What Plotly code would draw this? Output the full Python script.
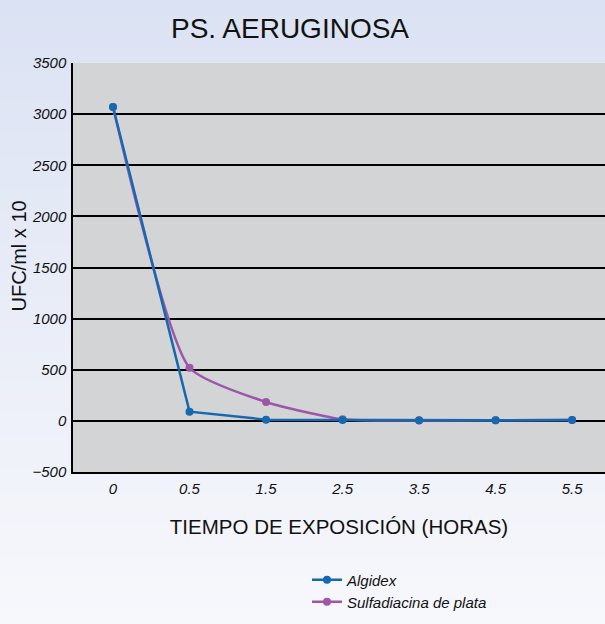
import plotly.graph_objects as go

categories = ["0", "0.5", "1.5", "2.5", "3.5", "4.5", "5.5"]
algidex = [3070, 90, 12, 8, 5, 6, 8]
sulfadiacina = [3070, 520, 185, 15, 3, 6, 8]
y_ticks = [-500, 0, 500, 1000, 1500, 2000, 2500, 3000, 3500]

xi = list(range(len(categories)))

W, H = 605, 624
L, R, T, B = 73, 0, 63, 152
PW, PH = W - L - R, H - T - B


def px_to_paper_x(px):
    return (px - L) / PW


def py_to_paper_y(py):
    return (H - B - py) / PH


fig = go.Figure()

# gradient paper background
n = 80
top = (219, 226, 243)
bot = (247, 248, 252)
for i in range(n):
    t = i / (n - 1)
    c = tuple(int(round(top[k] + (bot[k] - top[k]) * t)) for k in range(3))
    py0 = H * i / n
    py1 = H * (i + 1) / n + 1
    fig.add_shape(type="rect", xref="paper", yref="paper",
                  x0=px_to_paper_x(-5), x1=px_to_paper_x(W + 5),
                  y0=py_to_paper_y(py1), y1=py_to_paper_y(py0),
                  fillcolor="rgb(%d,%d,%d)" % c, line_width=0, layer="below")
# plot area background
fig.add_shape(type="rect", xref="paper", yref="paper", x0=0, x1=1, y0=0, y1=1,
              fillcolor="#d3d4d6", line_width=0, layer="below")

fig.add_trace(go.Scatter(
    x=xi, y=sulfadiacina, name="Sulfadiacina de plata", mode="lines+markers",
    line=dict(color="#9c57a9", width=2.5, shape="spline", smoothing=0.55),
    marker=dict(size=8, color="#9c57a9"), legend="legend2"))
fig.add_trace(go.Scatter(
    x=xi, y=algidex, name="Algidex", mode="lines+markers",
    line=dict(color="#1469b0", width=2.5),
    marker=dict(size=8, color="#1469b0"), legend="legend"))

leg_common = dict(xanchor="left", yanchor="middle", bgcolor="rgba(0,0,0,0)",
                  font=dict(size=15, style="italic", color="#111"))

fig.update_layout(
    width=W, height=H,
    paper_bgcolor="rgba(0,0,0,0)",
    plot_bgcolor="rgba(0,0,0,0)",
    margin=dict(l=L, r=R, t=T, b=B, autoexpand=False),
    font=dict(family="Liberation Sans, Arial, sans-serif", color="#111"),
    title=dict(text="PS. AERUGINOSA", x=290 / W, xanchor="center",
               y=1 - 28 / H, yanchor="middle",
               font=dict(size=28, color="#111")),
    showlegend=True,
    legend=dict(x=px_to_paper_x(307), y=py_to_paper_y(580), **leg_common),
    legend2=dict(x=px_to_paper_x(307), y=py_to_paper_y(602), **leg_common),
    annotations=[dict(text="UFC/ml x 10", xref="paper", yref="paper",
                      x=px_to_paper_x(18.5), y=py_to_paper_y(256),
                      xanchor="center", yanchor="middle", textangle=-90,
                      showarrow=False, font=dict(size=20, color="#111"))],
)
fig.update_xaxes(
    range=[-0.523, 6.43], tickmode="array", tickvals=xi, ticktext=categories,
    showgrid=False, zeroline=False, showline=True, linecolor="#000", linewidth=1.5,
    ticks="", tickfont=dict(size=15, style="italic"), ticklabelstandoff=2,
    title=dict(text="TIEMPO DE EXPOSICIÓN (HORAS)", font=dict(size=20.5), standoff=24),
)
fig.update_yaxes(
    range=[-500, 3500], tickmode="array", tickvals=y_ticks,
    showgrid=True, gridcolor="#000", gridwidth=1.5, zeroline=False,
    showline=True, linecolor="#000", linewidth=1.5, ticks="",
    tickfont=dict(size=15, style="italic"), ticklabelstandoff=2,
)

fig.write_html("out.html", config={"displayModeBar": False},
               post_script="document.body.style.margin='0';document.body.style.overflow='hidden';")
